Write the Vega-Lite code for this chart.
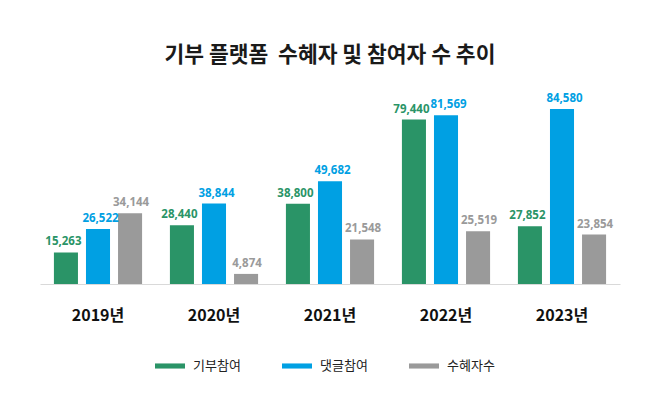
{
  "$schema": "https://vega.github.io/schema/vega-lite/v6.json",
  "width": 580,
  "height": 207,
  "autosize": {"type": "none"},
  "padding": {"left": 40, "right": 40, "top": 77, "bottom": 136},
  "background": "white",
  "title": {
    "text": "기부 플랫폼 \u00a0수혜자 및 참여자 수 추이",
    "fontSize": 21.5,
    "fontWeight": "bold",
    "font": "Noto Sans CJK KR",
    "color": "#1a1a1a",
    "anchor": "middle",
    "offset": 11
  },
  "config": {
    "view": {"stroke": null},
    "font": "Noto Sans CJK KR"
  },
  "data": {
    "values": [
      {"year": "2019년", "series": "기부참여", "value": 15263},
      {"year": "2019년", "series": "댓글참여", "value": 26522},
      {"year": "2019년", "series": "수혜자수", "value": 34144},
      {"year": "2020년", "series": "기부참여", "value": 28440},
      {"year": "2020년", "series": "댓글참여", "value": 38844},
      {"year": "2020년", "series": "수혜자수", "value": 4874},
      {"year": "2021년", "series": "기부참여", "value": 38800},
      {"year": "2021년", "series": "댓글참여", "value": 49682},
      {"year": "2021년", "series": "수혜자수", "value": 21548},
      {"year": "2022년", "series": "기부참여", "value": 79440},
      {"year": "2022년", "series": "댓글참여", "value": 81569},
      {"year": "2022년", "series": "수혜자수", "value": 25519},
      {"year": "2023년", "series": "기부참여", "value": 27852},
      {"year": "2023년", "series": "댓글참여", "value": 84580},
      {"year": "2023년", "series": "수혜자수", "value": 23854}
    ]
  },
  "encoding": {
    "x": {
      "field": "year",
      "type": "nominal",
      "sort": null,
      "scale": {"paddingInner": 0.24, "paddingOuter": 0.12},
      "axis": {
        "title": null,
        "labelAngle": 0,
        "labelFontSize": 16,
        "labelFontWeight": "bold",
        "labelFont": "Noto Sans CJK KR",
        "labelColor": "#111111",
        "labelPadding": 23,
        "ticks": false,
        "domainColor": "#d9d9d9",
        "domainWidth": 1
      }
    },
    "xOffset": {
      "field": "series",
      "type": "nominal",
      "sort": ["기부참여", "댓글참여", "수혜자수"],
      "scale": {"paddingInner": 0.25, "paddingOuter": 0}
    },
    "y": {
      "field": "value",
      "type": "quantitative",
      "scale": {"domain": [0, 100000], "nice": false},
      "axis": null
    },
    "color": {
      "field": "series",
      "type": "nominal",
      "sort": ["기부참여", "댓글참여", "수혜자수"],
      "scale": {
        "domain": ["기부참여", "댓글참여", "수혜자수"],
        "range": ["#2a9467", "#00a0e3", "#9a9a9a"]
      },
      "legend": {
        "title": null,
        "orient": "none",
        "direction": "horizontal",
        "legendX": 115,
        "legendY": 274,
        "symbolType": "M-1,-0.17L1,-0.17L1,0.17L-1,0.17Z",
        "symbolSize": 900,
        "symbolStrokeWidth": 0,
        "symbolOpacity": 1,
        "labelFontSize": 13,
        "labelFont": "Noto Sans CJK KR",
        "labelColor": "#222222",
        "labelOffset": 8,
        "columnPadding": 41
      }
    }
  },
  "layer": [
    {"mark": {"type": "bar", "opacity": 1}},
    {
      "transform": [{"filter": "datum.series === '기부참여'"}],
      "mark": {
        "type": "text",
        "dy": -7,
        "dx": -2.5,
        "baseline": "alphabetic",
        "fontSize": 11.5,
        "fontWeight": "bold",
        "font": "Noto Sans"
      },
      "encoding": {
        "text": {"field": "value", "type": "quantitative", "format": ","}
      }
    },
    {
      "transform": [{"filter": "datum.series === '댓글참여'"}],
      "mark": {
        "type": "text",
        "dy": -7,
        "dx": 2.5,
        "baseline": "alphabetic",
        "fontSize": 11.5,
        "fontWeight": "bold",
        "font": "Noto Sans"
      },
      "encoding": {
        "text": {"field": "value", "type": "quantitative", "format": ","}
      }
    },
    {
      "transform": [{"filter": "datum.series === '수혜자수'"}],
      "mark": {
        "type": "text",
        "dy": -7,
        "dx": 1,
        "baseline": "alphabetic",
        "fontSize": 11.5,
        "fontWeight": "bold",
        "font": "Noto Sans"
      },
      "encoding": {
        "text": {"field": "value", "type": "quantitative", "format": ","}
      }
    }
  ]
}
